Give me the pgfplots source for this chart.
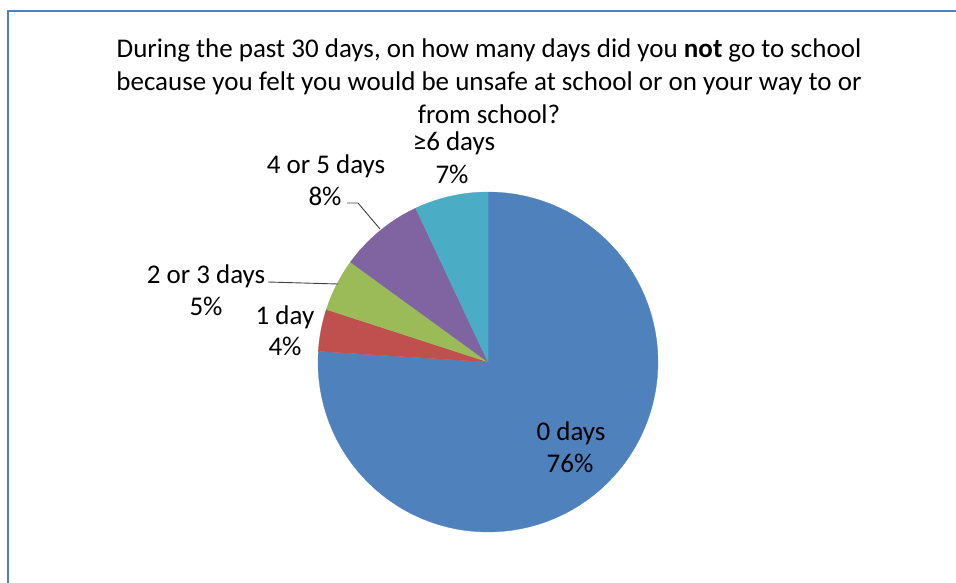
\documentclass[border=0pt]{standalone}
\usepackage{fontspec}
\setmainfont{Carlito}
\usepackage{pgfplots}
\pgfplotsset{compat=1.18}
\definecolor{PieBlue}{HTML}{4F81BD}
\definecolor{PieRed}{HTML}{C0504D}
\definecolor{PieGreen}{HTML}{9BBB59}
\definecolor{PiePurple}{HTML}{8064A2}
\definecolor{PieAqua}{HTML}{4BACC6}
\definecolor{LeadGray}{HTML}{404040}

% one slice: #1 = share before it (%), #2 = its share (%), #3 = colour
\newcommand{\slice}[3]{%
  \addplot[fill=#3, draw=#3, line width=0.3pt, samples=90, variable=\t,
    domain=3.6*#1:3.6*(#1+#2)]
    ({488+170*sin(t)}, {362-170*cos(t)}) -- (axis cs:488,362) -- cycle;
}

\begin{document}
\begin{tikzpicture}[lbl/.style={anchor=base, inner sep=0pt, text=black, font=\fontsize{27}{32}\selectfont}]
\begin{axis}[
  width=956pt, height=583pt, scale only axis,
  xmin=0, xmax=956, ymin=0, ymax=583, y dir=reverse,
  axis lines=none, clip=false
]
  \slice{0}{76}{PieBlue}
  \slice{76}{4}{PieRed}
  \slice{80}{5}{PieGreen}
  \slice{85}{8}{PiePurple}
  \slice{93}{7}{PieAqua}

  \coordinate (bl) at (axis cs:0,583);
  \coordinate (tr) at (axis cs:956,0);

  % frame
  \draw[PieBlue, line width=2.2pt] (axis cs:8,590) -- (axis cs:8,11) -- (axis cs:965,11);

  % title
  \node[lbl] at (axis cs:489,58) {During the past 30 days, on how many days did you \textbf{not} go to school};
  \node[lbl] at (axis cs:489,91) {because you felt you would be unsafe at school or on your way to or};
  \node[lbl] at (axis cs:489,124) {from school?};

  % data labels
  \node[lbl] at (axis cs:571,440) {0 days};
  \node[lbl] at (axis cs:570,472) {76\%};
  \node[lbl] at (axis cs:285,324) {1 day};
  \node[lbl] at (axis cs:285,355) {4\%};
  \node[lbl] at (axis cs:206,283) {2 or 3 days};
  \node[lbl] at (axis cs:206,315) {5\%};
  \node[lbl] at (axis cs:326,173) {4 or 5 days};
  \node[lbl] at (axis cs:325,205) {8\%};
  \node[lbl] at (axis cs:454,151) {≥6 days};
  \node[lbl] at (axis cs:452,183) {7\%};

  % leader lines
  \draw[LeadGray, line width=0.9pt] (axis cs:268,282) -- (axis cs:338,284);
  \draw[LeadGray, line width=0.9pt] (axis cs:347,203) -- (axis cs:358,203) -- (axis cs:380,229);
\end{axis}
\pgfresetboundingbox
\path[use as bounding box] (bl) rectangle (tr);
\end{tikzpicture}
\end{document}
